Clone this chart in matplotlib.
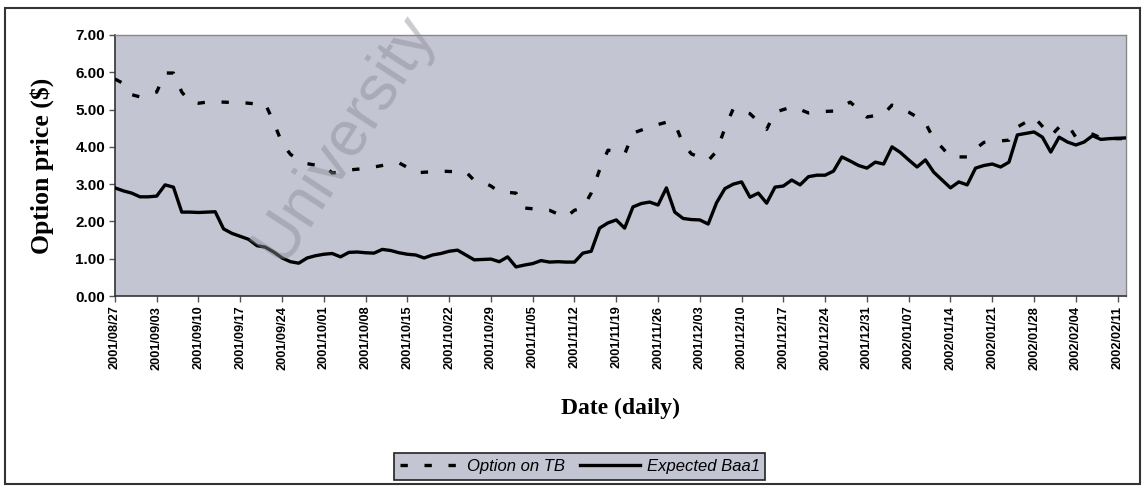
import matplotlib
matplotlib.use("Agg")
import matplotlib.pyplot as plt
from matplotlib.patches import Rectangle

# tick labels (one every 5 trading days)
tick_labels = ["2001/08/27", "2001/09/03", "2001/09/10", "2001/09/17", "2001/09/24",
               "2001/10/01", "2001/10/08", "2001/10/15", "2001/10/22", "2001/10/29",
               "2001/11/05", "2001/11/12", "2001/11/19", "2001/11/26", "2001/12/03",
               "2001/12/10", "2001/12/17", "2001/12/24", "2001/12/31", "2002/01/07",
               "2002/01/14", "2002/01/21", "2002/01/28", "2002/02/04", "2002/02/11"]

# daily values
option_tb = [5.82, 5.70, 5.40, 5.34, 5.40, 5.47, 5.98, 5.98, 5.47, 5.20,
             5.17, 5.20, 5.20, 5.20, 5.19, 5.19, 5.17, 5.15, 5.15, 4.66,
             4.10, 3.80, 3.65, 3.55, 3.51, 3.50, 3.30, 3.32, 3.38, 3.40,
             3.42, 3.46, 3.50, 3.55, 3.57, 3.45, 3.30, 3.32, 3.33, 3.35,
             3.34, 3.33, 3.33, 3.10, 3.06, 2.95, 2.79, 2.78, 2.76, 2.36,
             2.34, 2.32, 2.30, 2.20, 2.12, 2.30, 2.36, 2.76, 3.38, 3.91,
             3.88, 3.80, 4.37, 4.45, 4.53, 4.60, 4.66, 4.63, 4.08, 3.81,
             3.72, 3.63, 3.88, 4.50, 5.02, 4.95, 4.89, 4.68, 4.47, 4.93,
             5.00, 5.07, 5.00, 4.91, 4.93, 4.95, 4.96, 5.08, 5.20, 5.00,
             4.80, 4.84, 4.88, 5.12, 5.02, 4.93, 4.80, 4.64, 4.21, 3.98,
             3.73, 3.73, 3.73, 3.95, 4.12, 4.14, 4.16, 4.18, 4.53, 4.66,
             4.80, 4.55, 4.29, 4.53, 4.61, 4.26, 4.32, 4.34, 4.24, 4.23,
             4.22, 4.22]

expected_baa1 = [2.90, 2.82, 2.76, 2.66, 2.66, 2.68, 2.98, 2.92, 2.25, 2.25,
                 2.24, 2.25, 2.26, 1.80, 1.68, 1.60, 1.52, 1.35, 1.31, 1.18,
                 1.02, 0.92, 0.88, 1.02, 1.08, 1.12, 1.14, 1.05, 1.17, 1.18,
                 1.16, 1.15, 1.25, 1.22, 1.16, 1.12, 1.10, 1.02, 1.10, 1.14,
                 1.20, 1.23, 1.10, 0.97, 0.98, 0.99, 0.92, 1.05, 0.78, 0.83,
                 0.87, 0.95, 0.91, 0.92, 0.91, 0.91, 1.15, 1.20, 1.82, 1.96,
                 2.04, 1.82, 2.39, 2.48, 2.52, 2.44, 2.90, 2.25, 2.08, 2.05,
                 2.04, 1.93, 2.50, 2.88, 3.00, 3.06, 2.65, 2.76, 2.49, 2.92,
                 2.95, 3.11, 2.98, 3.20, 3.24, 3.24, 3.35, 3.73, 3.62, 3.50,
                 3.43, 3.59, 3.54, 4.00, 3.85, 3.65, 3.46, 3.65, 3.32, 3.11,
                 2.90, 3.06, 2.98, 3.43, 3.50, 3.54, 3.46, 3.59, 4.32, 4.36,
                 4.40, 4.26, 3.86, 4.26, 4.13, 4.05, 4.13, 4.30, 4.20, 4.22,
                 4.23, 4.24]

x = list(range(len(option_tb)))

sans = "Liberation Sans"
serif = "Liberation Serif"

fig = plt.figure(figsize=(11.46, 4.95), dpi=100)
ax = fig.add_axes([0.1003, 0.402, 0.8822, 0.5273])
ax.set_facecolor("#c4c5d3")

# outer chart border
fig.patches.append(Rectangle((0.004, 0.022), 0.991, 0.962, transform=fig.transFigure,
                             fill=False, edgecolor="#333333", lw=1.5))

l1, = ax.plot(x, option_tb, color="black", lw=2.4, linestyle=(0, (2.2, 5.0)),
              dash_capstyle="butt", label="Option on TB", zorder=3)
l2, = ax.plot(x, expected_baa1, color="black", lw=2.4, label="Expected Baa1", zorder=3)

ax.set_xlim(0, len(x) - 1)
ax.set_ylim(0, 7)
ax.set_yticks(range(8))
ax.set_yticklabels(["%.2f" % v for v in range(8)], fontfamily=sans, fontweight="bold", fontsize=11)
ax.set_xticks(range(0, len(x), 5))
ax.set_xticklabels(tick_labels, rotation=90, fontfamily=sans, fontweight="bold", fontsize=9.2)
ax.tick_params(axis="both", direction="out", length=4, width=1, color="#555555", pad=3)

for side in ["top", "right"]:
    ax.spines[side].set_color("#888888")
    ax.spines[side].set_linewidth(1)
for side in ["left", "bottom"]:
    ax.spines[side].set_color("#333333")
    ax.spines[side].set_linewidth(1.2)

ax.set_ylabel("Option price ($)", fontfamily=serif, fontweight="bold", fontsize=18.5)
ax.yaxis.set_label_coords(-0.06, 0.5)
ax.set_xlabel("Date (daily)", fontfamily=serif, fontweight="bold", fontsize=17)
ax.xaxis.set_label_coords(0.5, -0.39)

leg = fig.legend(handles=[l1, l2], loc="center", bbox_to_anchor=(0.506, 0.057), ncol=2,
                 frameon=True, fancybox=False, facecolor="#c4c5d3", edgecolor="#222222",
                 framealpha=1, handlelength=3.6, columnspacing=0.9, handletextpad=0.4,
                 borderpad=0.35, prop={"family": sans, "style": "italic", "size": 12})
leg.get_frame().set_linewidth(1.2)

# scanned watermark
fig.text(0.300, 0.72, "University", rotation=57, fontsize=46, fontfamily=sans,
         color="#8a8a96", alpha=0.45, ha="center", va="center", zorder=5)

fig.savefig("out.png", dpi=100)
